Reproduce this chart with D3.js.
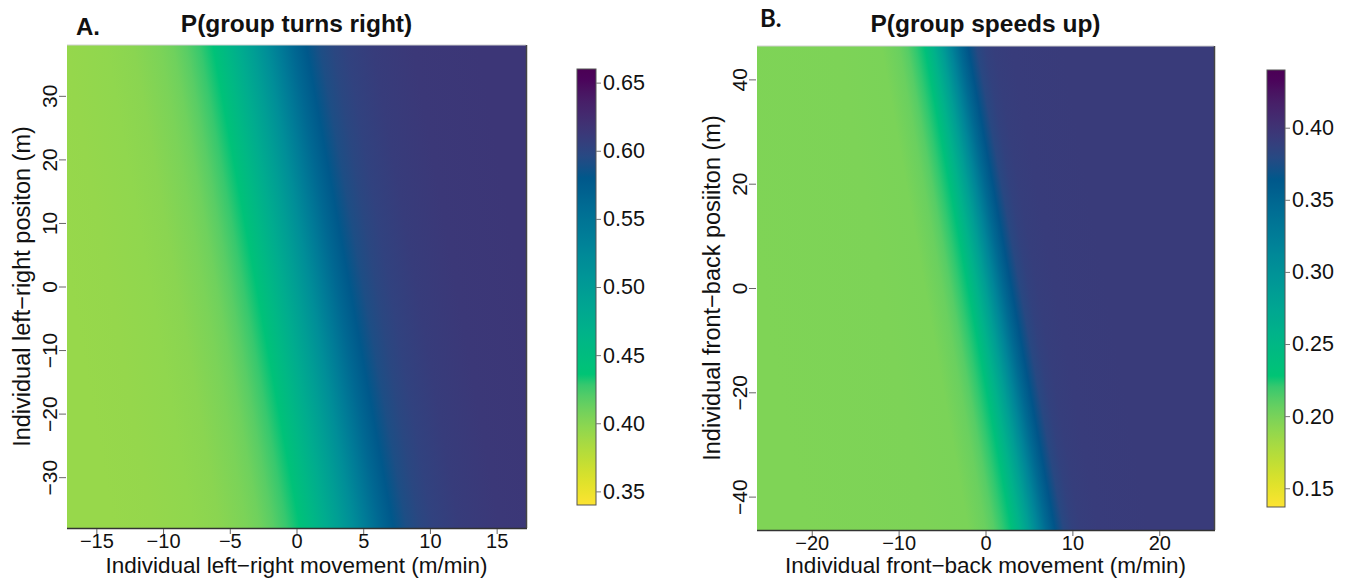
<!DOCTYPE html>
<html>
<head>
<meta charset="utf-8">
<script src="https://cdn.jsdelivr.net/npm/d3@7"></script>
<style>
  body { margin: 0; background: #fff; }
  text { font-family: "Liberation Sans", Arial, sans-serif; fill: #111; }
</style>
</head>
<body>
<svg id="fig" width="1349" height="579"></svg>
<script>
////////////////////////////////////////////////////////////////////////////////
// Data (profile along x at y = 0)

// A. P(group turns right)
var turnX = [-17, -14, -11, -9, -7, -6, -5, -4, -3, -2, -1, 0, 1, 2, 3, 4, 5, 6, 7, 9, 12, 17];
var turnP = [0.393, 0.394, 0.396, 0.399, 0.405, 0.410, 0.418, 0.428, 0.440, 0.458, 0.477, 0.497,
             0.518, 0.540, 0.562, 0.580, 0.591, 0.598, 0.603, 0.609, 0.613, 0.615];
var turnSlope = -0.086;                 // contour shift in x (m/min) per m of position
var turnXDomain = [-17.2, 17.2];
var turnYDomain = [-38, 38];
var turnPDomain = [0.34, 0.66];
var turnXTicks = [-15, -10, -5, 0, 5, 10, 15];
var turnYTicks = [-30, -20, -10, 0, 10, 20, 30];
var turnPTicks = [0.35, 0.40, 0.45, 0.50, 0.55, 0.60, 0.65];

// B. P(group speeds up)
var speedX = [-26, -12, -7, -5, -4, -3, -2, -1, 0, 1, 2, 3, 4, 5, 6, 8, 14, 26];
var speedP = [0.197, 0.198, 0.199, 0.205, 0.212, 0.222, 0.235, 0.258, 0.285, 0.315, 0.345,
              0.368, 0.380, 0.387, 0.390, 0.392, 0.393, 0.393];
var speedSlope = -0.108;
var speedXDomain = [-26.3, 26.3];
var speedYDomain = [-46.4, 46.4];
var speedPDomain = [0.137, 0.44];
var speedXTicks = [-20, -10, 0, 10, 20];
var speedYTicks = [-40, -20, 0, 20, 40];
var speedPTicks = [0.15, 0.20, 0.25, 0.30, 0.35, 0.40];

////////////////////////////////////////////////////////////////////////////////
// hcl "viridis" palette (colorspace sequential multi-hue), t: 0 = yellow, 1 = purple

function hcl_viridis(t) {
  t = Math.max(0, Math.min(1, t));
  var H = 75 + 225 * t,
      C = 95 - 55 * t,
      L = 90 - 75 * Math.pow(t, 1.1);
  var h = H * Math.PI / 180, u = C * Math.cos(h), v = C * Math.sin(h);
  var Xn = 95.047, Yn = 100, Zn = 108.883;
  var Y = L > 8 ? Yn * Math.pow((L + 16) / 116, 3) : Yn * L / 903.3;
  var den = Xn + 15 * Yn + 3 * Zn, un = 4 * Xn / den, vn = 9 * Yn / den;
  var up = u / (13 * L) + un, vp = v / (13 * L) + vn;
  var X = 9 * Y * up / (4 * vp), Z = -X / 3 - 5 * Y + 3 * Y / vp;
  X /= 100; Y /= 100; Z /= 100;
  var rgb = [ 3.240479 * X - 1.537150 * Y - 0.498535 * Z,
             -0.969256 * X + 1.875992 * Y + 0.041556 * Z,
              0.055648 * X - 0.204043 * Y + 1.057311 * Z];
  rgb = rgb.map(function(c) {
    c = c <= 0.0031308 ? 12.92 * c : 1.055 * Math.pow(c, 1 / 2.4) - 0.055;
    return Math.round(255 * Math.max(0, Math.min(1, c)));
  });
  return d3.rgb(rgb[0], rgb[1], rgb[2]).formatHex();
}

////////////////////////////////////////////////////////////////////////////////

var svg = d3.select("#fig");
var defs = svg.append("defs");

var panels = [
  { id: "A", tag: "A.", title: "P(group turns right)",
    xs: turnX, ps: turnP, slope: turnSlope,
    xDomain: turnXDomain, yDomain: turnYDomain, pDomain: turnPDomain,
    xTicks: turnXTicks, yTicks: turnYTicks, pTicks: turnPTicks,
    xLab: "Individual left\u2212right movement (m/min)",
    yLab: "Individual left\u2212right positon (m)",
    x0: 67, x1: 526, y0: 45, y1: 528,
    barX: 577, barW: 19, barTop: 69, barBottom: 505,
    tagX: 76, tagY: 35, tagFont: "Liberation Sans", titleY: 32 },
  { id: "B", tag: "B.", title: "P(group speeds up)",
    xs: speedX, ps: speedP, slope: speedSlope,
    xDomain: speedXDomain, yDomain: speedYDomain, pDomain: speedPDomain,
    xTicks: speedXTicks, yTicks: speedYTicks, pTicks: speedPTicks,
    xLab: "Individual front\u2212back movement (m/min)",
    yLab: "Individual front\u2212back posiiton (m)",
    x0: 757, x1: 1214, y0: 46, y1: 530,
    barX: 1267, barW: 18, barTop: 70, barBottom: 507,
    tagX: 760, tagY: 27, tagFont: "Lato", titleY: 32 }
];

panels.forEach(draw_panel);

function draw_panel(p) {
  var sx = d3.scaleLinear().domain(p.xDomain).range([p.x0, p.x1]);
  var sy = d3.scaleLinear().domain(p.yDomain).range([p.y1, p.y0]);
  var col = d3.scaleSequential(hcl_viridis).domain(p.pDomain);
  var g = svg.append("g");

  // surface: contours are straight, tilted lines -> one linear gradient
  var dxPx = sx(p.slope * 10) - sx(0), dyPx = sy(10) - sy(0);
  var len = Math.hypot(dxPx, dyPx);
  var nx = -dyPx / len, ny = dxPx / len;
  var cx = (p.x0 + p.x1) / 2, cy = (p.y0 + p.y1) / 2;
  var proj = p.xs.map(function(x) { return (sx(x) - cx) * nx + (sy(0) - cy) * ny; });
  var tmin = d3.min(proj), tmax = d3.max(proj);

  var grad = defs.append("linearGradient").attr("id", "surf" + p.id)
    .attr("gradientUnits", "userSpaceOnUse")
    .attr("x1", cx + tmin * nx).attr("y1", cy + tmin * ny)
    .attr("x2", cx + tmax * nx).attr("y2", cy + tmax * ny);
  grad.selectAll("stop").data(p.ps).enter().append("stop")
    .attr("offset", function(d, i) { return (proj[i] - tmin) / (tmax - tmin); })
    .attr("stop-color", function(d) { return col(d); });

  g.append("rect")
    .attr("x", p.x0).attr("y", p.y0)
    .attr("width", p.x1 - p.x0).attr("height", p.y1 - p.y0)
    .attr("fill", "url(#surf" + p.id + ")");

  // frame: light top / left, dark bottom / right
  g.append("line").attr("x1", p.x0).attr("x2", p.x1).attr("y1", p.y0).attr("y2", p.y0)
    .style("stroke", "#d0d0d0").style("stroke-width", 1);
  g.append("line").attr("x1", p.x0).attr("x2", p.x1 + 1).attr("y1", p.y1 + 0.5).attr("y2", p.y1 + 0.5)
    .style("stroke", "#333").style("stroke-width", 1.5);
  g.append("line").attr("x1", p.x1 + 0.5).attr("x2", p.x1 + 0.5).attr("y1", p.y0).attr("y2", p.y1)
    .style("stroke", "#444").style("stroke-width", 1.5);

  // axes
  var fmt = d3.format("");
  var xAxis = g.append("g").attr("transform", "translate(0," + (p.y1 + 1) + ")")
    .call(d3.axisBottom(sx).tickValues(p.xTicks).tickFormat(fmt).tickSize(5).tickPadding(0));
  xAxis.select(".domain").remove();
  xAxis.selectAll("line").style("stroke", "#666");
  xAxis.selectAll("text").style("font-size", "20px").style("fill", "#111");

  var yAxis = g.append("g").attr("transform", "translate(" + (p.x0 - 1) + ",0)")
    .call(d3.axisLeft(sy).tickValues(p.yTicks).tickFormat(fmt).tickSize(7));
  yAxis.select(".domain").remove();
  yAxis.selectAll("line").style("stroke", "#666");
  yAxis.selectAll("text")
    .attr("x", null).attr("dy", null)
    .attr("text-anchor", "middle")
    .attr("transform", "translate(-9,0) rotate(-90)")
    .style("font-size", "21px").style("fill", "#111");

  // axis titles
  g.append("text").attr("x", cx).attr("y", 573).attr("text-anchor", "middle")
    .style("font-size", "22.5px").text(p.xLab);
  g.append("text").attr("transform", "translate(" + (p.x0 - 37) + "," + cy + ") rotate(-90)")
    .attr("text-anchor", "middle").style("font-size", "23.5px").text(p.yLab);

  // titles
  g.append("text").attr("x", cx).attr("y", p.titleY).attr("text-anchor", "middle")
    .style("font-size", "24.5px").style("font-weight", "bold").text(p.title);
  g.append("text").attr("x", p.tagX).attr("y", p.tagY)
    .style("font-family", p.tagFont).style("font-size", "24px").style("font-weight", "bold")
    .text(p.tag);

  // colour bar
  var sb = d3.scaleLinear().domain(p.pDomain).range([p.barBottom, p.barTop]);
  var bgrad = defs.append("linearGradient").attr("id", "bar" + p.id)
    .attr("x1", 0).attr("y1", 1).attr("x2", 0).attr("y2", 0);
  bgrad.selectAll("stop").data(d3.range(0, 1.0001, 0.025)).enter().append("stop")
    .attr("offset", function(d) { return d; })
    .attr("stop-color", function(d) { return hcl_viridis(d); });
  g.append("rect").attr("x", p.barX).attr("y", p.barTop)
    .attr("width", p.barW).attr("height", p.barBottom - p.barTop)
    .attr("fill", "url(#bar" + p.id + ")")
    .style("stroke", "#555").style("stroke-width", 1);

  var bAxis = g.append("g").attr("transform", "translate(" + (p.barX + p.barW) + ",0)")
    .call(d3.axisRight(sb).tickValues(p.pTicks).tickFormat(d3.format(".2f")).tickSize(5).tickPadding(2));
  bAxis.select(".domain").remove();
  bAxis.selectAll("line").style("stroke", "#777");
  bAxis.selectAll("text").style("font-size", "21.5px").style("fill", "#111");
}
</script>
</body>
</html>
